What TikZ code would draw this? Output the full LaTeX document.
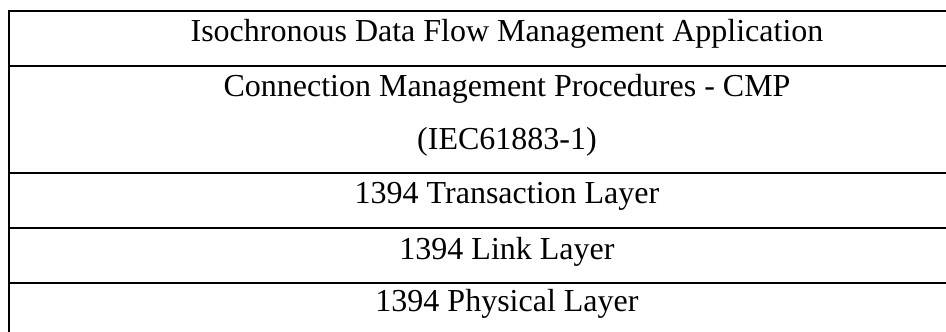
\documentclass[tikz,border=0pt]{standalone}
\usepackage{fontspec}
\setmainfont{Liberation Serif}
\begin{document}
\begin{tikzpicture}[x=1pt,y=-1pt,
  rule/.style={line width=2pt,black},
  lbl/.style={anchor=base,inner sep=0pt,font=\fontsize{32}{38}\selectfont}]
\useasboundingbox (0,0) rectangle (946,332);
\draw[rule] (9,332) -- (9,10.5) -- (946,10.5);
\foreach \y in {65.5,172.5,227.5,283.3}{
  \draw[rule] (9,\y) -- (946,\y);
}
\node[lbl] (app) at (507,41.7) {Isochronous Data Flow Management Application};
\node[lbl] (cmp) at (507,96.7) {Connection Management Procedures - CMP};
\node[lbl] (iec) at (507,149) {(IEC61883-1)};
\node[lbl] (trans) at (507,203.3) {1394 Transaction Layer};
\node[lbl] (link) at (507,259.3) {1394 Link Layer};
\node[lbl] (phys) at (507,311.7) {1394 Physical Layer};
\end{tikzpicture}
\end{document}
